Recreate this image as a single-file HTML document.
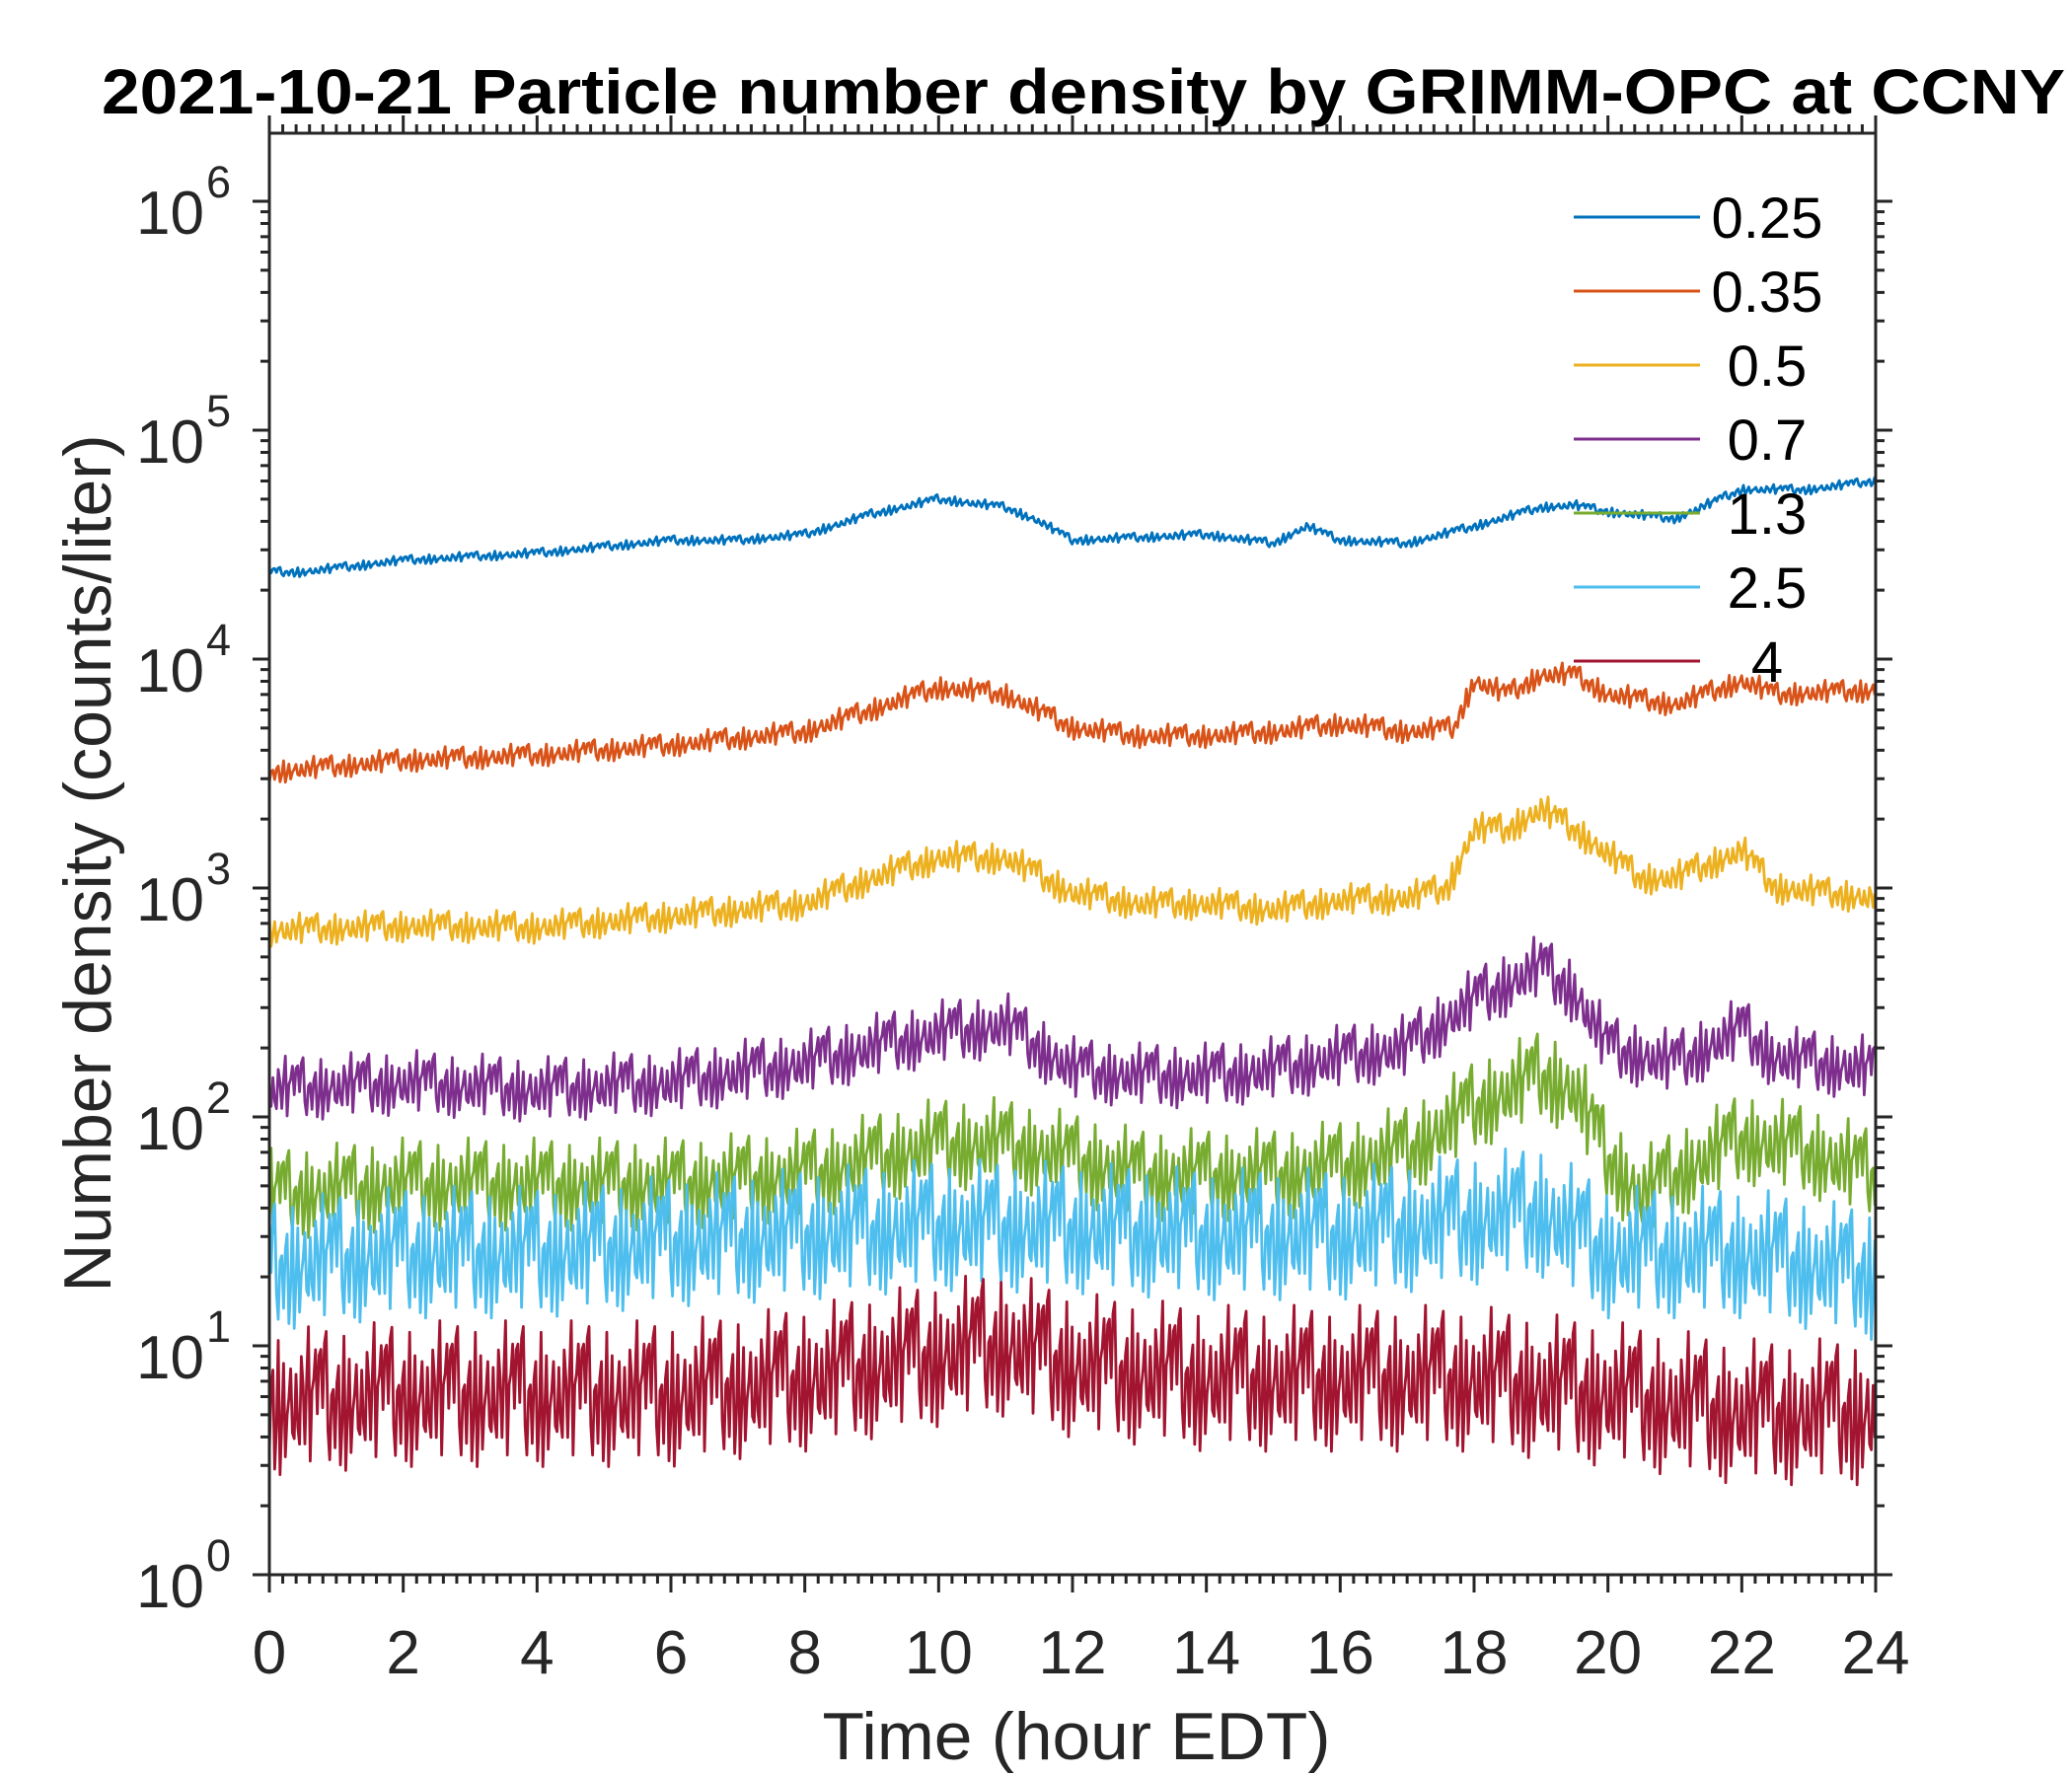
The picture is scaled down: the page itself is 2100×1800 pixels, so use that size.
<!DOCTYPE html>
<html><head><meta charset="utf-8"><style>
html,body{margin:0;padding:0;background:#fff;}
svg{display:block;font-family:"Liberation Sans",Arial,sans-serif;}
</style></head><body>
<svg id="chart" width="2100" height="1800" viewBox="0 0 2100 1800" xmlns="http://www.w3.org/2000/svg">
<rect width="2100" height="1800" fill="#fff"/>
<text x="1098" y="115" text-anchor="middle" font-size="64" font-weight="bold" textLength="1990" lengthAdjust="spacingAndGlyphs" fill="#000">2021-10-21 Particle number density by GRIMM-OPC at CCNY</text>
<g id="series"></g>
<g id="axes"></g>
<g id="legend"></g>
<text x="1091" y="1783" text-anchor="middle" font-size="68" textLength="515" lengthAdjust="spacingAndGlyphs" fill="#262626">Time (hour EDT)</text>
<text transform="translate(112,875) rotate(-90)" text-anchor="middle" font-size="68" fill="#262626">Number density (counts/liter)</text>
</svg>
<script>
const seriesNames=["0.25","0.35","0.5","0.7","1.3","2.5","4"];
const seriesColors=["#0072BD","#D95319","#EDB120","#7E2F8E","#77AC30","#4DBEEE","#A2142F"];
const hours025=[0,0.5,2,4,6,7,8,9,10,11,11.5,12,13,14,15,15.5,16,17,18,19,19.5,20,21,22,23,24];
const vals025=[24000,24000,27000,29000,33000,33000,35000,43000,50000,46000,40000,33000,34000,35000,32000,38000,33000,32000,38000,46000,47000,44000,41000,55000,55000,60000];
const hours035=[0,2,4,6,8,9,10,11,12,13,14,15,16,17,17.7,18,18.5,19,19.5,20,21,22,22.5,24];
const vals035=[3200,3600,3800,4200,4800,6000,7500,7000,5000,4600,4600,4800,5200,4800,5000,8000,7000,8500,8500,7000,6300,8000,7000,7300];
const hours05=[0,2,4,6,8,9,10,11,12,13,14,15,16,17,17.6,18,18.5,19,19.5,20,20.5,21,22,22.5,24];
const vals05=[650,680,670,750,850,1100,1350,1350,950,850,850,800,880,900,1000,1800,1800,2200,1800,1400,1100,1100,1450,1000,900];
const hours07=[0,2,4,6,8,9,10,11,12,13,14,15,16,17,18,19,19.5,20,21,22,22.5,24];
const vals07=[130,140,130,140,170,200,230,250,160,150,150,160,180,200,320,450,350,200,170,240,180,160];
const hours13=[0,2,4,6,8,10,11,12,13,14,15,16,17,18,19,19.5,20,20.5,21,22,23,24];
const vals13=[45,50,50,50,55,75,75,65,55,55,55,60,70,110,150,130,65,45,55,80,70,55];
const hours25=[0,2,4,6,8,10,12,14,16,18,19,20,22,24];
const vals25=[22,25,25,28,30,33,32,30,30,35,38,25,25,20];
const hours4=[0,2,4,6,8,10,11,12,14,16,18,20,22,24];
const vals4=[5.5,6,6,6,7,9,10,8,7,7,7,6,5,5];
const spreads=[1.04,1.1,1.14,1.3,1.45,1.7,1.8];
const allHours=[hours025,hours035,hours05,hours07,hours13,hours25,hours4];
const allVals=[vals025,vals035,vals05,vals07,vals13,vals25,vals4];
const xTicks=[0,2,4,6,8,10,12,14,16,18,20,22,24];
const yExps=[0,1,2,3,4,5,6];

const NS="http://www.w3.org/2000/svg";
const L=273,R=1901,T=135,B=1596;
const yMinLog=0,yMaxLog=(B-T)/232;
function xs(h){return L+(h/24)*(R-L);}
function ys(v){return B-(Math.log10(v)-yMinLog)/(yMaxLog-yMinLog)*(B-T);}
function mk(tag,attrs,parent){const e=document.createElementNS(NS,tag);for(const k in attrs)e.setAttribute(k,attrs[k]);parent.appendChild(e);return e;}
function interpLog(hs,vs,h){for(let i=0;i<hs.length-1;i++){if(h>=hs[i]&&h<=hs[i+1]){const t=(h-hs[i])/(hs[i+1]-hs[i]);return Math.pow(10,Math.log10(vs[i])*(1-t)+Math.log10(vs[i+1])*t);}}return vs[vs.length-1];}

const sg=document.getElementById('series');
const pat=[0.9,-0.4,0.3,-1,0.6,-0.2,1.1,-0.7,0.1,-0.5,0.8,-1.2,0.4,0.2,-0.6,0.9,-0.3,1.3,-0.8,0.5,-0.1,0.7,-1,0.3,-0.4,1,-0.9,0.2,0.6,-0.7,1.2,-0.2,0.4,-1.1,0.8,-0.5,0.1];
for(let s=0;s<seriesNames.length;s++){
  const hs=allHours[s],vs=allVals[s],sp=Math.log10(spreads[s]);
  let d="";let k=0;
  for(let px=L;px<=R;px+=1.8,k++){
    const h=(px-L)/(R-L)*24;
    const c=Math.log10(interpLog(hs,vs,h));
    const a=sp*pat[(k*5+s*3)%pat.length];
    const v=Math.pow(10,c+a);
    d+=(k?"L":"M")+px.toFixed(1)+" "+Math.min(B,ys(v)).toFixed(1);
  }
  const p=mk('path',{d:d,fill:'none',stroke:seriesColors[s],'stroke-width':2.8,'stroke-linejoin':'round'},sg);
  
  
}

const ag=document.getElementById('axes');
const ax=mk('rect',{x:L,y:T,width:R-L,height:B-T,fill:'none',stroke:'#262626','stroke-width':3},ag);


let td="";
for(let m=0;m<=120;m++){const h=m*0.2;const x=xs(h);const len=(m%10===0)?18:9;td+=`M${x} ${B}v${len}M${x} ${T}v${-len}`;}
for(let e=0;e<7;e++){for(let j=1;j<=9;j++){const v=Math.pow(10,e)*j;const y=ys(v);if(y<T)continue;const len=j===1?17:9;td+=`M${L} ${y}h${-len}M${R} ${y}h${len}`;}}
const tp=mk('path',{d:td,stroke:'#262626','stroke-width':3,fill:'none'},ag);


xTicks.forEach(h=>{
  const t=mk('text',{x:xs(h),y:1696,'text-anchor':'middle','font-size':62,fill:'#262626'},ag);
  t.textContent=h;
  
  
});
yExps.forEach(e=>{
  const y=ys(Math.pow(10,e));
  const t=mk('text',{x:207,y:y+33,'text-anchor':'end','font-size':62,fill:'#262626'},ag);
  t.textContent='10';
  
  
  const sup=mk('text',{x:209,y:y-4,'text-anchor':'start','font-size':45,fill:'#262626'},ag);
  sup.textContent=e;
  
  
});

const lg=document.getElementById('legend');
seriesNames.forEach((n,i)=>{
  const y=220+i*75;
  const ln=mk('line',{x1:1595,x2:1723,y1:y,y2:y,stroke:seriesColors[i],'stroke-width':3},lg);
  
  
  const t=mk('text',{x:1791,y:y+21,'text-anchor':'middle','font-size':58,fill:'#000'},lg);
  t.textContent=n;
  
  
});
</script>
</body></html>
